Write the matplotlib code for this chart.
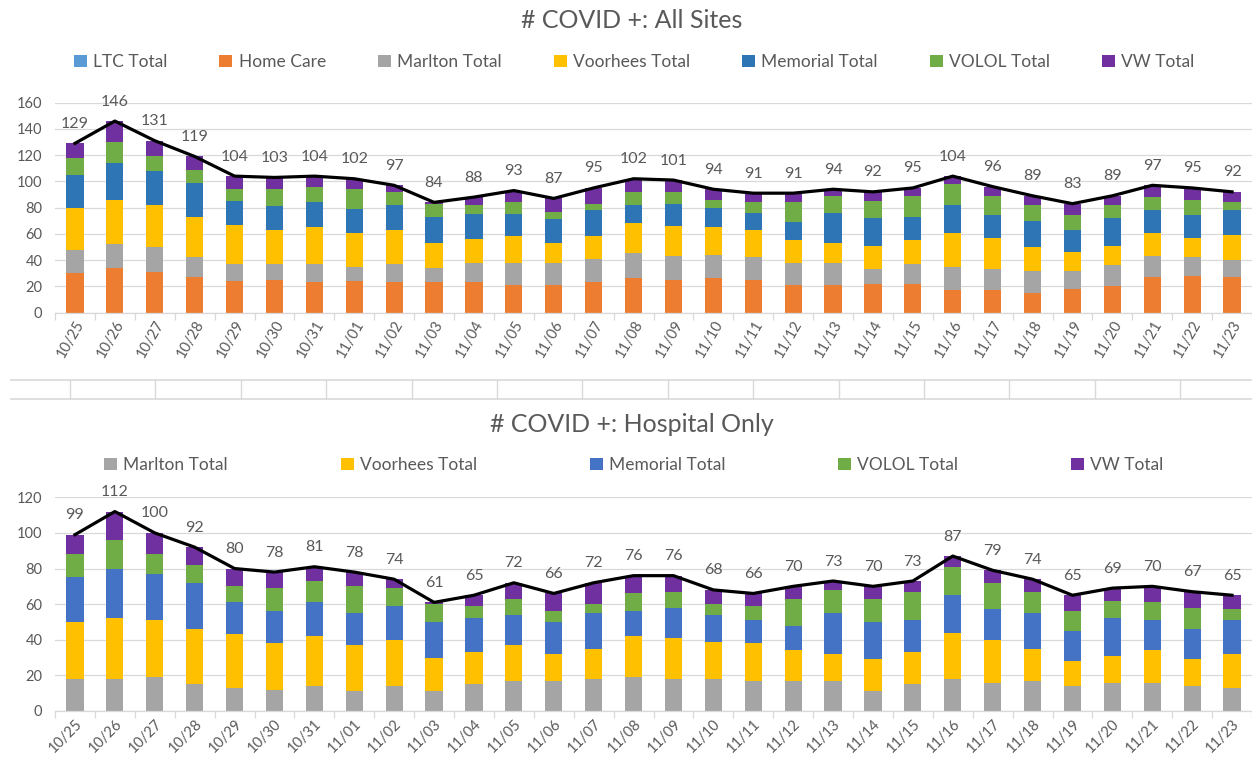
import matplotlib
matplotlib.use("Agg")
import matplotlib.pyplot as plt
import numpy as np

dates = ["10/25", "10/26", "10/27", "10/28", "10/29", "10/30", "10/31", "11/01", "11/02", "11/03",
         "11/04", "11/05", "11/06", "11/07", "11/08", "11/09", "11/10", "11/11", "11/12", "11/13",
         "11/14", "11/15", "11/16", "11/17", "11/18", "11/19", "11/20", "11/21", "11/22", "11/23"]

ltc_total      = [0] * 30
home_care      = [30, 34, 31, 27, 24, 25, 23, 24, 23, 23, 23, 21, 21, 23, 26, 25, 26, 25, 21, 21, 22, 22, 17, 17, 15, 18, 20, 27, 28, 27]
marlton_total  = [18, 18, 19, 15, 13, 12, 14, 11, 14, 11, 15, 17, 17, 18, 19, 18, 18, 17, 17, 17, 11, 15, 18, 16, 17, 14, 16, 16, 14, 13]
voorhees_total = [32, 34, 32, 31, 30, 26, 28, 26, 26, 19, 18, 20, 15, 17, 23, 23, 21, 21, 17, 15, 18, 18, 26, 24, 18, 14, 15, 18, 15, 19]
memorial_total = [25, 28, 26, 26, 18, 18, 19, 18, 19, 20, 19, 17, 18, 20, 14, 17, 15, 13, 14, 23, 21, 18, 21, 17, 20, 17, 21, 17, 17, 19]
volol_total    = [13, 16, 11, 10,  9, 13, 12, 15, 10, 10,  7,  9,  6,  5, 10,  9,  6,  8, 15, 13, 13, 16, 16, 15, 12, 11, 10, 10, 12,  6]
vw_total       = [11, 16, 12, 10, 10,  9,  8,  8,  5,  1,  6,  9, 10, 12, 10,  9,  8,  7,  7,  5,  7,  6,  6,  7,  7,  9,  7,  9,  9,  8]

all_labels = ["LTC Total", "Home Care", "Marlton Total", "Voorhees Total", "Memorial Total", "VOLOL Total", "VW Total"]
hosp_labels = ["Marlton Total", "Voorhees Total", "Memorial Total", "VOLOL Total", "VW Total"]

all_colors = ["#5B9BD5", "#ED7D31", "#A5A5A5", "#FFC000", "#2E75B6", "#70AD47", "#7030A0"]
hosp_colors = ["#A5A5A5", "#FFC000", "#4472C4", "#70AD47", "#7030A0"]

FONT = "Lato"
TXT = "#595959"
GRID = "#D9D9D9"

plt.rcParams["font.family"] = [FONT, "DejaVu Sans"]

W, H = 1252, 777
fig = plt.figure(figsize=(W / 100, H / 100), dpi=100)


def px_axes(left, top, right, bottom):
    return fig.add_axes([left / W, 1 - bottom / H, (right - left) / W, (bottom - top) / H])


def draw_panel(ax, series, labels, colors, ymax, rot):
    x = np.arange(len(dates))
    bottom = np.zeros(len(dates))
    handles = []
    for vals, lab, col in zip(series, labels, colors):
        v = np.array(vals, dtype=float)
        b = ax.bar(x, v, 0.43, bottom=bottom, color=col, label=lab, zorder=2)
        handles.append(b)
        bottom = bottom + v
    totals = bottom
    ax.plot(x, totals, color="black", lw=2.3, zorder=3, solid_joinstyle="round")
    for xi, t in zip(x, totals):
        ax.annotate(f"{int(t)}", (xi, t), xytext=(0, 14), textcoords="offset points",
                    ha="center", va="center", fontsize=11.5, color=TXT, zorder=4)
    ax.set_xlim(-0.5, 29.42)
    ax.set_ylim(0, ymax)
    ax.set_yticks(np.arange(0, ymax + 1, 20))
    ax.yaxis.grid(True, color=GRID, lw=0.9, zorder=0)
    ax.set_axisbelow(True)
    for s in ["top", "right", "left"]:
        ax.spines[s].set_visible(False)
    ax.spines["bottom"].set_color(GRID)
    ax.spines["bottom"].set_linewidth(0.9)
    ax.tick_params(axis="y", length=0, labelsize=10.5, labelcolor=TXT, pad=9)
    ax.set_xticks(x)
    ax.set_xticklabels(dates, rotation=rot, ha="right", rotation_mode="anchor",
                       fontsize=10.5, color=TXT)
    ax.tick_params(axis="x", length=0, pad=4)
    ax.set_xticks(np.arange(-0.5, 30, 1), minor=True)
    ax.tick_params(axis="x", which="minor", length=5, color=GRID, width=0.9)
    return handles


# Top panel
ax1 = px_axes(55, 102.7, 1252, 312.5)
h1 = draw_panel(ax1, [ltc_total, home_care, marlton_total, voorhees_total, memorial_total, volol_total, vw_total],
                all_labels, all_colors, 160, 60)
fig.text(632 / W, 1 - 20 / H, "# COVID +: All Sites", ha="center", va="center", fontsize=18, color=TXT)
fig.legend(handles=h1, labels=all_labels, loc="center", bbox_to_anchor=(634 / W, 1 - 62 / H), ncol=7,
           frameon=False, fontsize=12.5, handlelength=0.75, handleheight=0.75, handletextpad=0.35,
           columnspacing=3.0, labelcolor=TXT)

# Strip (fragment of a table border between panels)
axs = px_axes(11, 380, 1252, 399)
axs.set_xlim(11, 1252)
axs.set_ylim(0, 1)
axs.set_xticks([])
axs.set_yticks([])
for s in ["left", "right"]:
    axs.spines[s].set_visible(False)
for s in ["top", "bottom"]:
    axs.spines[s].set_color(GRID)
    axs.spines[s].set_linewidth(1.2)
for xv in np.arange(70, 1252, 85.4):
    axs.axvline(xv, color=GRID, lw=1.0)
axs.patch.set_alpha(0)

# Bottom panel
ax2 = px_axes(55, 497.3, 1252, 711)
h2 = draw_panel(ax2, [marlton_total, voorhees_total, memorial_total, volol_total, vw_total],
                hosp_labels, hosp_colors, 120, 45)
fig.text(632 / W, 1 - 425 / H, "# COVID +: Hospital Only", ha="center", va="center", fontsize=18, color=TXT)
fig.legend(handles=h2, labels=hosp_labels, loc="center", bbox_to_anchor=(634 / W, 1 - 465 / H), ncol=5,
           frameon=False, fontsize=12.5, handlelength=0.75, handleheight=0.75, handletextpad=0.35,
           columnspacing=6.5, labelcolor=TXT)

fig.savefig("out.png", dpi=100)
